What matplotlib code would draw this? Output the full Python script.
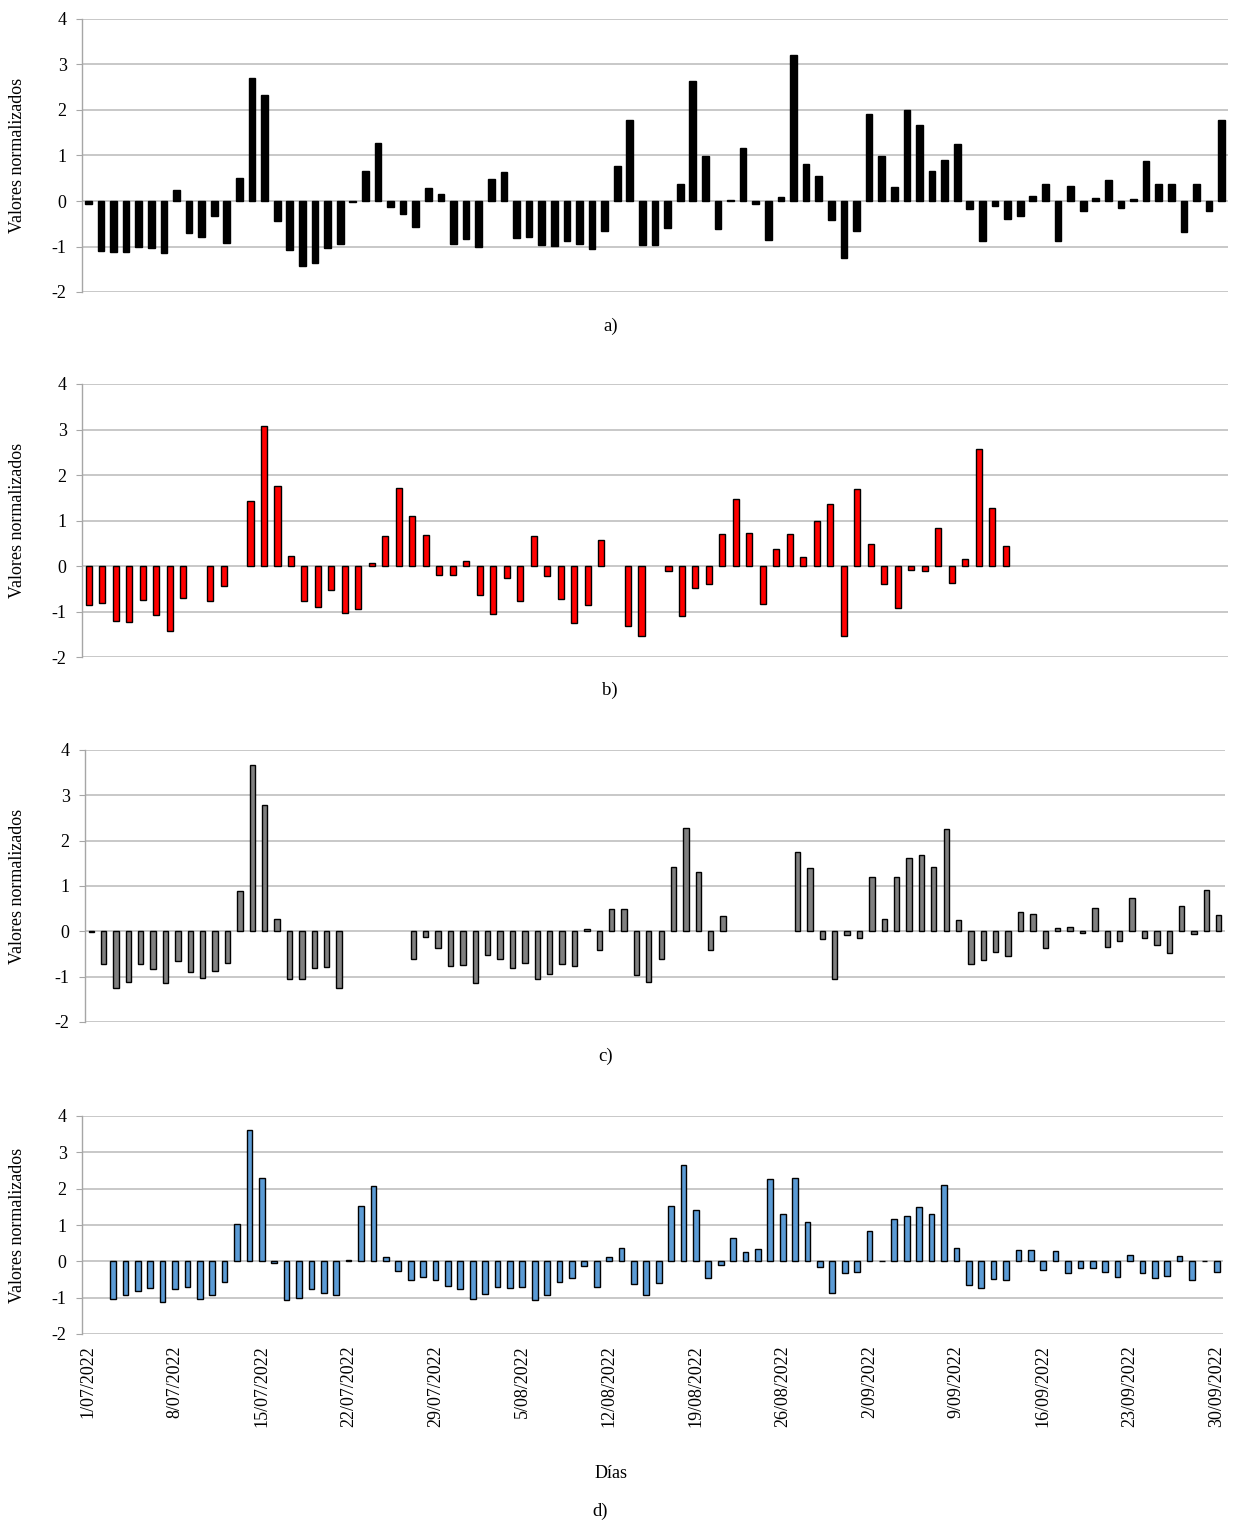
import numpy as np
import pandas as pd
import matplotlib
matplotlib.use("Agg")
import matplotlib.pyplot as plt

plt.rcParams["font.family"] = ["Liberation Serif", "DejaVu Serif"]

nan = np.nan

# ── data ─────────────────────────────────────────────────────────────────────
serie_a = [-0.06, -1.10, -1.12, -1.13, -1.00, -1.04, -1.14, 0.25, -0.70, -0.80,
           -0.33, -0.93, 0.51, 2.71, 2.33, -0.45, -1.08, -1.42, -1.36, -1.03,
           -0.94, -0.03, 0.67, 1.28, -0.14, -0.29, -0.57, 0.29, 0.16, -0.94,
           -0.84, -1.00, 0.48, 0.64, -0.82, -0.80, -0.97, -0.99, -0.87, -0.95,
           -1.06, -0.65, 0.77, 1.77, -0.97, -0.96, -0.60, 0.38, 2.63, 0.99,
           -0.62, 0.02, 1.17, -0.06, -0.85, 0.09, 3.20, 0.81, 0.56, -0.41,
           -1.25, -0.65, 1.92, 0.98, 0.31, 2.00, 1.68, 0.67, 0.91, 1.25,
           -0.18, -0.87, -0.10, -0.40, -0.32, 0.10, 0.37, -0.87, 0.34, -0.21,
           0.07, 0.47, -0.16, 0.04, 0.88, 0.37, 0.38, -0.68, 0.37, -0.23,
           1.77]

serie_b = [-0.85, -0.81, -1.21, -1.22, -0.74, -1.08, -1.42, -0.70, nan, -0.76,
           -0.44, nan, 1.42, 3.08, 1.75, 0.23, -0.78, -0.90, -0.53, -1.03,
           -0.95, 0.07, 0.65, 1.72, 1.09, 0.68, -0.20, -0.19, 0.12, -0.63,
           -1.05, -0.26, -0.76, 0.65, -0.21, -0.72, -1.25, -0.86, 0.57, nan,
           -1.32, -1.54, nan, -0.10, -1.10, -0.48, -0.40, 0.71, 1.48, 0.73,
           -0.84, 0.37, 0.70, 0.20, 0.98, 1.36, -1.54, 1.69, 0.48, -0.40,
           -0.92, -0.08, -0.12, 0.84, -0.38, 0.16, 2.57, 1.27, 0.45,
           nan, nan, nan, nan, nan, nan, nan, nan, nan, nan, nan, nan, nan,
           nan, nan, nan]

serie_c = [-0.02, -0.72, -1.26, -1.11, -0.72, -0.82, -1.15, -0.66, -0.89, -1.04,
           -0.88, -0.70, 0.90, 3.67, 2.79, 0.27, -1.05, -1.06, -0.81, -0.78,
           -1.25, nan, nan, nan, nan, nan, -0.61, -0.12, -0.37, -0.77,
           -0.74, -1.13, -0.53, -0.62, -0.81, -0.69, -1.06, -0.95, -0.71, -0.77,
           0.06, -0.42, 0.49, 0.49, -0.96, -1.12, -0.61, 1.43, 2.28, 1.30,
           -0.41, 0.33, nan, nan, nan, nan, nan, 1.74, 1.40, -0.18,
           -1.05, -0.07, -0.15, 1.20, 0.27, 1.20, 1.62, 1.69, 1.43, 2.26,
           0.25, -0.73, -0.63, -0.45, -0.55, 0.43, 0.38, -0.37, 0.07, 0.10,
           -0.04, 0.52, -0.34, -0.22, 0.73, -0.14, -0.30, -0.47, 0.55, -0.06,
           0.91, 0.37]

serie_d = [nan, nan, -1.04, -0.92, -0.83, -0.74, -1.13, -0.76, -0.70, -1.04,
           -0.93, -0.58, 1.02, 3.62, 2.29, -0.04, -1.06, -1.02, -0.76, -0.86,
           -0.94, 0.04, 1.52, 2.07, 0.12, -0.26, -0.50, -0.44, -0.50, -0.68,
           -0.76, -1.05, -0.89, -0.71, -0.73, -0.71, -1.06, -0.92, -0.58, -0.47,
           -0.13, -0.72, 0.12, 0.36, -0.62, -0.94, -0.61, 1.51, 2.65, 1.42,
           -0.46, -0.11, 0.65, 0.27, 0.34, 2.27, 1.31, 2.28, 1.07, -0.15,
           -0.87, -0.31, -0.30, 0.83, 0.01, 1.17, 1.24, 1.50, 1.31, 2.11,
           0.38, -0.65, -0.73, -0.49, -0.50, 0.30, 0.31, -0.24, 0.29, -0.32,
           -0.17, -0.19, -0.28, -0.43, 0.17, -0.32, -0.46, -0.41, 0.16, -0.52,
           0.01, -0.30]

dias = pd.date_range("2022-07-01", "2022-09-30", freq="D")
fechas_ticks = dias[::7]
etiquetas_x = [f"{d.day}/{d.month:02d}/{d.year}" for d in fechas_ticks]

y_ticks = [4, 3, 2, 1, 0, -1, -2]
y_label = "Valores normalizados"
x_label = "Días"

# ── figure ───────────────────────────────────────────────────────────────────
W, H = 1234, 1526
fig = plt.figure(figsize=(W / 100, H / 100), dpi=100)

GRID = "#BFBFBF"
AXIS = "#A6A6A6"
FS = 13


def px_axes(left, top, right, bottom):
    return fig.add_axes([left / W, 1 - bottom / H,
                         (right - left) / W, (bottom - top) / H])


def panel(rect, values, color, width, caption, cap_xy):
    ax = px_axes(*rect)
    vals = np.array(values, dtype=float)
    x = np.arange(len(vals))
    ok = ~np.isnan(vals)
    ax.bar(x[ok], vals[ok], width=width, color=color,
           edgecolor="black", linewidth=1.0, zorder=3)
    ax.set_xlim(-0.5, len(vals) - 0.5)
    ax.set_ylim(-2, 4)
    ax.set_yticks(y_ticks)
    ax.set_yticklabels([str(t) for t in y_ticks], fontsize=FS)
    ax.yaxis.grid(True, color=GRID, linewidth=1.2, zorder=0)
    for s in ("top", "right", "bottom"):
        ax.spines[s].set_visible(False)
    ax.spines["left"].set_color(AXIS)
    ax.spines["left"].set_linewidth(1.0)
    ax.tick_params(axis="y", length=4, color=AXIS, pad=7)
    ax.set_xticks([])
    # y label centred at x ~ 18 px
    mid = 1 - (rect[1] + rect[3]) / 2 / H
    fig.text(18 / W, mid, y_label, fontsize=FS, rotation=90,
             ha="center", va="center")
    fig.text(cap_xy[0] / W, 1 - cap_xy[1] / H, caption, fontsize=13.5,
             ha="center", va="center")
    return ax


panel((82, 19, 1228, 292), serie_a, "black", 0.53, "a)", (611, 326))
panel((82, 384, 1228, 657), serie_b, "#FF0000", 0.45, "b)", (610, 690))
panel((85, 750, 1225, 1022), serie_c, "#808080", 0.43, "c)", (606, 1056))
ax_d = panel((82, 1116, 1223, 1334), serie_d, "#5B9BD5", 0.46, "d)", (600, 1511))

pos = [dias.get_loc(f) for f in fechas_ticks]
ax_d.set_xticks(pos)
ax_d.set_xticklabels(etiquetas_x, rotation=90, fontsize=FS)
ax_d.tick_params(axis="x", length=0, pad=8)
fig.text(611 / W, 1 - 1473 / H, x_label, fontsize=FS, ha="center", va="center")

fig.savefig("out.png", dpi=100)
plt.close()
